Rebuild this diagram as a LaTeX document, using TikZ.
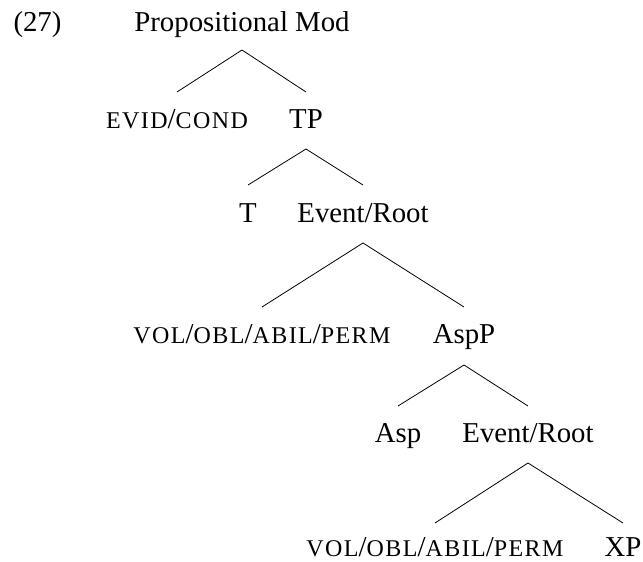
\documentclass[tikz,border=0pt]{standalone}
\usepackage{fontspec}
\setmainfont{Liberation Serif}
\newfontfamily\scfam[LetterSpace=6]{Liberation Serif}
\newcommand\fsc[1]{{\fontsize{24}{24}\scfam #1}}
\begin{document}
\begin{tikzpicture}[x=1pt,y=-1pt,
  lab/.style={anchor=base,inner sep=0pt,font=\fontsize{28.8}{30}\selectfont},
  br/.style={line width=0.8pt}]
\useasboundingbox (0,0) rectangle (643,562);
\node[lab] (ex) at (37.5,31) {(27)};
\node[lab] (pm) at (242,31) {Propositional Mod};
\node[lab] (ev) at (177,128) {\fsc{EVID}/\fsc{COND}};
\node[lab] (tp) at (306,128) {TP};
\node[lab] (t) at (248,222) {T};
\node[lab] (er1) at (363,222) {Event/Root};
\node[lab] (v1) at (262,343) {\fsc{VOL}/\fsc{OBL}/\fsc{ABIL}/\fsc{PERM}};
\node[lab] (asp1) at (464,343) {AspP};
\node[lab] (asp) at (398,442) {Asp};
\node[lab] (er2) at (528,442) {Event/Root};
\node[lab] (v2) at (435,556) {\fsc{VOL}/\fsc{OBL}/\fsc{ABIL}/\fsc{PERM}};
\node[lab] (xp) at (623,556) {XP};
\draw[br] ([yshift=36pt]ev.base) -- ([yshift=-19pt]pm.base) -- ([yshift=36pt]tp.base);
\draw[br] ([yshift=37pt]t.base) -- ([yshift=-21pt]tp.base) -- ([yshift=37pt]er1.base);
\draw[br] ([yshift=36pt]v1.base) -- ([yshift=-21pt]er1.base) -- ([yshift=36pt]asp1.base);
\draw[br] ([yshift=36pt]asp.base) -- ([yshift=-22pt]asp1.base) -- ([yshift=36pt]er2.base);
\draw[br] ([yshift=33pt]v2.base) -- ([yshift=-21pt]er2.base) -- ([yshift=33pt]xp.base);
\end{tikzpicture}
\end{document}
